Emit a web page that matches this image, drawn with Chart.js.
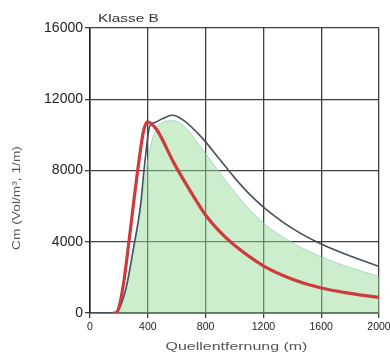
<!DOCTYPE html>
<html>
<head>
<meta charset="utf-8">
<script src="https://cdn.jsdelivr.net/npm/chart.js@4/dist/chart.umd.min.js"></script>
<style>
  html, body { margin: 0; padding: 0; background: #fff; }
  #wrap { width: 390px; height: 355px; }
</style>
</head>
<body>
<div id="wrap"><canvas id="chart" width="390" height="355"></canvas></div>
<script>
// values (distance in m, Cm)
const xTicks = [0, 400, 800, 1200, 1600, 2000];
const yTicks = [0, 4000, 8000, 12000, 16000];

const redX = [160, 175, 200, 233, 268, 302, 349, 372, 396, 420, 465, 582, 698, 800, 900, 1000, 1200, 1400, 1600, 1800, 2000];
const redY = [0, 0, 300, 1700, 3900, 6200, 9140, 10260, 10730, 10650, 10260, 8400, 6800, 5500, 4550, 3800, 2650, 1900, 1400, 1100, 880];

const darkX = [0, 175, 200, 250, 300, 349, 380, 414, 450, 500, 570, 650, 768, 900, 1000, 1100, 1200, 1400, 1600, 1800, 2000];
const darkY = [0, 0, 200, 1400, 3600, 6000, 8500, 10500, 10700, 10900, 11100, 10800, 9900, 8600, 7600, 6700, 5950, 4750, 3870, 3200, 2620];

const greenX = [0, 160, 200, 250, 300, 350, 400, 450, 500, 570, 650, 768, 900, 1000, 1100, 1200, 1300, 1400, 1600, 1800, 2000];
const greenY = [0, 0, 400, 1500, 3400, 5800, 8600, 10200, 10700, 10800, 10500, 9300, 7850, 6800, 5850, 5050, 4450, 3950, 3150, 2550, 2050];

const pts = (xs, ys) => xs.map((x, i) => ({ x: x, y: ys[i] }));
const FONT = '"Liberation Sans", Arial, sans-serif';

// the scanned lettering is wide, so the titles are drawn stretched
function wideText(ctx, text, x, y, size, stretch, angle, align) {
  ctx.save();
  ctx.translate(x, y);
  ctx.rotate(angle);
  ctx.scale(stretch, 1);
  ctx.font = size + 'px ' + FONT;
  ctx.textAlign = align;
  ctx.textBaseline = 'middle';
  ctx.fillText(text, 0, 0);
  ctx.restore();
}

const labelsPlugin = {
  id: 'labels',
  afterDraw(chart) {
    const ctx = chart.ctx;
    const area = chart.chartArea;
    ctx.save();
    ctx.fillStyle = '#333';
    wideText(ctx, 'Klasse B', 98, 19, 11, 1.4, 0, 'left');
    ctx.fillStyle = '#555';
    wideText(ctx, 'Quellentfernung (m)', (area.left + area.right) / 2 + 2, 347, 11, 1.45, 0, 'center');
    wideText(ctx, 'Cm (Vol/m³, 1/m)', 17, 198, 11, 1.25, -Math.PI / 2, 'center');
    ctx.restore();
  }
};

const gridStyle = {
  color: 'rgba(30,30,30,0.85)',
  lineWidth: 1.3,
  tickLength: 5
};

new Chart('chart', {
  type: 'line',
  data: {
    datasets: [
      {
        data: pts(redX, redY),
        borderColor: 'rgb(205,60,60)',
        borderWidth: 3.2,
        pointRadius: 0,
        fill: false,
        cubicInterpolationMode: 'monotone',
        order: 1
      },
      {
        data: pts(darkX, darkY),
        borderColor: 'rgb(70,80,95)',
        borderWidth: 1.6,
        pointRadius: 0,
        fill: false,
        cubicInterpolationMode: 'monotone',
        order: 2
      },
      {
        data: pts(greenX, greenY),
        borderColor: 'rgba(120,200,170,0.6)',
        borderWidth: 1,
        backgroundColor: 'rgba(150,220,150,0.48)',
        pointRadius: 0,
        fill: 'origin',
        cubicInterpolationMode: 'monotone',
        order: 3
      }
    ]
  },
  options: {
    responsive: false,
    animation: false,
    layout: { padding: { top: 28, right: 11, left: 0, bottom: 0 } },
    plugins: {
      legend: { display: false },
      tooltip: { enabled: false }
    },
    scales: {
      x: {
        type: 'linear',
        min: 0,
        max: 2000,
        afterBuildTicks: (s) => { s.ticks = xTicks.map((v) => ({ value: v })); },
        afterFit: (s) => { s.height = 42; s.paddingLeft = 0; s.paddingRight = 0; },
        grid: gridStyle,
        border: { color: 'rgba(30,30,30,0.9)', width: 1.6 },
        ticks: {
          color: '#222',
          padding: 3,
          maxRotation: 0,
          callback: (v) => String(v),
          font: { family: FONT, size: 10.5 }
        }
      },
      y: {
        min: 0,
        max: 16000,
        afterBuildTicks: (s) => { s.ticks = yTicks.map((v) => ({ value: v })); },
        afterFit: (s) => { s.width = 90; },
        grid: gridStyle,
        border: { color: 'rgba(30,30,30,0.9)', width: 1.6 },
        ticks: {
          color: '#222',
          padding: 2,
          callback: (v) => String(v),
          font: { family: FONT, size: 14 }
        }
      }
    }
  },
  plugins: [labelsPlugin]
});
</script>
</body>
</html>
